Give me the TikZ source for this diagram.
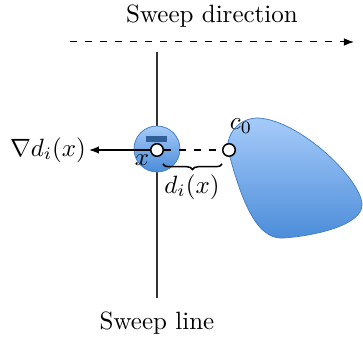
\documentclass[tikz,border=0pt]{standalone}
\usetikzlibrary{arrows.meta,decorations.pathreplacing}
\definecolor{blobtop}{HTML}{A6CBF9}
\definecolor{blobbot}{HTML}{4A8CD9}
\definecolor{markblue}{HTML}{2F5F95}
\begin{document}
\begin{tikzpicture}[x=0.4pt,y=-0.4pt,
  pt/.style={circle,draw=black,fill=white,line width=0.6pt,inner sep=0pt,minimum size=5pt},
  lbl/.style={inner sep=1pt},
  shade/.style={top color=blobtop,bottom color=blobbot}]
\useasboundingbox (0,0) rectangle (363,338);
% sweep direction
\node[lbl] (sd) at (212,16) {Sweep direction};
\coordinate (da) at (70,42);
\coordinate (db) at (354,42);
\draw[dashed,-{Latex[length=4pt]}] (da) -- (db);
% sweep line
\coordinate (sla) at (157,52);
\coordinate (slb) at (157,298);
\draw[line width=0.6pt,black!80] (sla) -- (slb);
\node[lbl] (sl) at (157,323) {Sweep line};
% robot disc
\shade[shade,draw=blobbot!90!black,line width=0.3pt] (157,149) circle[radius=23];
\fill[markblue] (146,136) rectangle (167,142);
% blob
\shade[shade,draw=blobbot!90!black,line width=0.3pt] (228,150)
  .. controls (240,195) and (255,240) .. (283,238)
  .. controls (315,236) and (362,225) .. (362,205)
  .. controls (362,180) and (300,120) .. (258,118)
  .. controls (238,118) and (226,135) .. (228,150) -- cycle;
% points
\node[pt] (x) at (157,150) {};
\node[pt] (c) at (229,150) {};
\draw[dashed,line width=0.6pt] (x) -- (c);
\node[lbl] (grad) at (48,150) {$\nabla d_i(x)$};
\draw[line width=0.6pt,-{Latex[length=4pt]}] (x) -- (grad);
\node[lbl] (xl) at (142,160) {$x$};
\node[lbl] (cl) at (241,126) {$c_0$};
\draw[decorate,decoration={brace,amplitude=2.2pt,mirror,aspect=0.5},line width=0.6pt] (163,164) -- (222,164);
\node[lbl] (dl) at (192,187) {$d_i(x)$};
\end{tikzpicture}
\end{document}
